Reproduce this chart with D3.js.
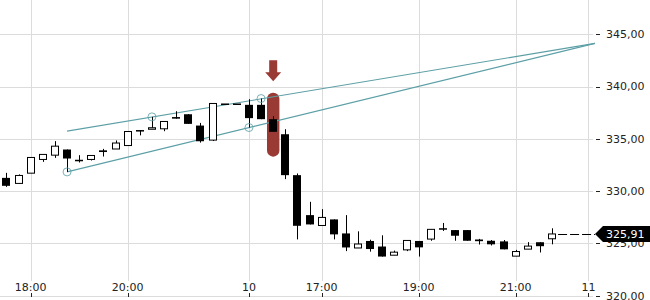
<!DOCTYPE html>
<html>
<head>
<meta charset="utf-8">
<script src="https://cdn.jsdelivr.net/npm/d3@7"></script>
<style>
    html, body { margin: 0; padding: 0; background: #fff; }
    svg { display: block; font-family: "DejaVu Sans", sans-serif; }
</style>
</head>
<body>
<div id="chart"></div>
<script>
// ===================================
// DATA (15 minute candles, one per index)
// ===================================
const opens = [331.27, 330.74, 331.72, 333.03, 333.44, 333.98, 333.00, 333.03, 333.90, 334.03,
    334.36, 335.84, 335.98, 335.96, 337.08, 337.35, 336.27, 334.88, 338.38, 338.38,
    338.25, 338.25, 336.88, 335.44, 331.53, 327.71, 326.72, 327.30, 325.96, 324.57,
    325.24, 324.71, 323.88, 324.39, 325.24, 325.42, 326.46, 326.28, 326.28, 325.38,
    325.26, 325.20, 323.79, 324.46, 325.12, 325.45];
const highs = [331.75, 331.60, 333.22, 333.51, 334.78, 333.98, 333.44, 333.41, 334.04, 334.85,
    335.70, 335.84, 337.10, 336.66, 337.64, 337.35, 336.52, 338.38, 338.38, 338.38,
    338.79, 338.85, 337.16, 335.92, 331.69, 328.98, 328.28, 327.30, 327.71, 326.16,
    325.36, 325.78, 324.32, 325.29, 325.24, 326.35, 326.96, 326.28, 326.28, 325.44,
    325.33, 325.33, 324.39, 325.13, 325.12, 326.45];
const lows = [330.41, 330.74, 331.72, 332.80, 333.18, 331.84, 332.74, 332.93, 333.31, 334.03,
    334.33, 335.33, 335.95, 335.73, 336.93, 336.43, 334.64, 334.79, 338.38, 338.38,
    336.08, 336.88, 335.67, 331.15, 325.39, 326.82, 326.72, 325.39, 324.27, 324.57,
    324.22, 323.75, 323.88, 324.27, 323.75, 325.26, 326.20, 325.26, 325.26, 324.90,
    324.81, 324.44, 323.79, 324.46, 324.14, 324.92];
const closes = [330.51, 331.50, 333.22, 333.51, 334.30, 333.12, 332.86, 333.41, 333.74, 334.60,
    335.70, 335.70, 336.06, 336.66, 336.93, 336.43, 334.77, 338.38, 338.38, 338.38,
    336.98, 336.88, 335.67, 331.53, 326.69, 326.82, 327.49, 325.87, 324.62, 324.95,
    324.47, 323.75, 324.17, 325.29, 324.63, 326.35, 326.32, 325.74, 325.26, 325.22,
    324.92, 324.44, 324.23, 324.75, 324.74, 325.91];

// x axis labels sit on candle indices
const tickIndex = [2, 10, 20, 26, 34, 42, 48];
const tickLabels = ["18:00", "20:00", "10", "17:00", "19:00", "21:00", "11"];
const yTicks = [320, 325, 330, 335, 340, 345];
const lastPrice = 325.91;

// drawing tools: trend channel, pivot markers, highlighted candle
const trendLines = [
    [[5, 335.74], [48.54, 344.12]],
    [[5, 331.84], [48.54, 344.12]]
];
const pivots = [[5, 331.84], [12, 337.10], [20, 336.08], [21, 338.85]];
const highlightIndex = 22;
const highlightRange = [333.3, 339.4];
const arrowRange = [340.5, 342.5];

// ===================================
// CHART CONFIGURATION
// ===================================
const W = 650, H = 300;
const plotRight = 595;

const svg = d3.select("#chart").append("svg")
    .attr("width", W)
    .attr("height", H);

const x = d3.scaleLinear().domain([0, 48]).range([6.45, 588.45]);
const y = d3.scaleLinear().domain([320, 345]).range([295.8, 34.2]);

const fmt = d3.formatLocale({ decimal: ",", thousands: ".", grouping: [3], currency: ["", ""] }).format(".2f");
const crisp = v => Math.round(v) + 0.5;

const candles = opens.map((o, i) => ({ i, o, h: highs[i], l: lows[i], c: closes[i] }));

// ===================================
// GRID LINES
// ===================================
svg.append("g")
    .selectAll("line")
    .data(yTicks)
    .join("line")
    .attr("x1", 0)
    .attr("x2", plotRight - 2)
    .attr("y1", d => crisp(y(d)))
    .attr("y2", d => crisp(y(d)))
    .attr("stroke", "#dcdcdc");

svg.append("g")
    .selectAll("line")
    .data(tickIndex)
    .join("line")
    .attr("x1", d => crisp(x(d)))
    .attr("x2", d => crisp(x(d)))
    .attr("y1", 0)
    .attr("y2", 281)
    .attr("stroke", "#dcdcdc");

// ===================================
// AXES
// ===================================
const yAxis = svg.append("g");
yAxis.selectAll("line")
    .data(yTicks)
    .join("line")
    .attr("x1", 596)
    .attr("x2", 600)
    .attr("y1", d => crisp(y(d)))
    .attr("y2", d => crisp(y(d)))
    .attr("stroke", "#222");
yAxis.selectAll("text")
    .data(yTicks)
    .join("text")
    .attr("x", 606)
    .attr("y", d => y(d))
    .attr("dy", "0.36em")
    .attr("font-size", "11px")
    .attr("fill", "#222")
    .text(d => fmt(d));

const xAxis = svg.append("g");
xAxis.selectAll("line")
    .data(tickIndex)
    .join("line")
    .attr("x1", d => crisp(x(d)))
    .attr("x2", d => crisp(x(d)))
    .attr("y1", 293)
    .attr("y2", 297)
    .attr("stroke", "#222");
xAxis.selectAll("text")
    .data(tickIndex)
    .join("text")
    .attr("x", (d) => x(d))
    .attr("y", 291)
    .attr("text-anchor", "middle")
    .attr("font-size", "11px")
    .attr("fill", "#222")
    .text((d, k) => tickLabels[k]);

// ===================================
// HIGHLIGHT + ARROW
// ===================================
const red = "#9a3a34";
svg.append("rect")
    .attr("x", x(highlightIndex) - 6.2)
    .attr("width", 12.4)
    .attr("y", y(highlightRange[1]))
    .attr("height", y(highlightRange[0]) - y(highlightRange[1]))
    .attr("rx", 6)
    .attr("fill", red);

const ax = x(highlightIndex), arrowTip = y(arrowRange[0]), arrowTop = y(arrowRange[1]);
const neck = arrowTip - 9;
svg.append("path")
    .attr("d", `M${ax - 4},${arrowTop} L${ax + 4},${arrowTop} L${ax + 4},${neck} L${ax + 8},${neck} L${ax},${arrowTip} L${ax - 8},${neck} L${ax - 4},${neck} Z`)
    .attr("fill", red);

// ===================================
// TREND CHANNEL
// ===================================
const teal = "#5c9fa6";
svg.append("g")
    .selectAll("line")
    .data(trendLines)
    .join("line")
    .attr("x1", d => x(d[0][0]))
    .attr("y1", d => y(d[0][1]))
    .attr("x2", d => x(d[1][0]))
    .attr("y2", d => y(d[1][1]))
    .attr("stroke", teal)
    .attr("stroke-width", 1.1);

// ===================================
// CANDLES
// ===================================
const bw = 8;
const cg = svg.append("g");
cg.selectAll(".wick")
    .data(candles)
    .join("line")
    .attr("class", "wick")
    .attr("x1", d => crisp(x(d.i)))
    .attr("x2", d => crisp(x(d.i)))
    .attr("y1", d => y(d.h))
    .attr("y2", d => y(d.l))
    .attr("stroke", "#000");

cg.selectAll(".body")
    .data(candles)
    .join("rect")
    .attr("class", "body")
    .attr("x", d => d.c > d.o ? Math.round(x(d.i)) - bw / 2 + 0.5 : Math.round(x(d.i)) - bw / 2)
    .attr("width", d => d.c > d.o ? bw - 1 : bw)
    .attr("y", d => y(Math.max(d.o, d.c)))
    .attr("height", d => Math.max(1.5, Math.abs(y(d.o) - y(d.c))))
    .attr("fill", d => d.c > d.o ? "#fff" : "#000")
    .attr("stroke", d => d.c > d.o ? "#000" : "none");

// pivot markers
svg.append("g")
    .selectAll("circle")
    .data(pivots)
    .join("circle")
    .attr("cx", d => x(d[0]))
    .attr("cy", d => y(d[1]))
    .attr("r", 4)
    .attr("fill", "none")
    .attr("stroke", teal)
    .attr("stroke-opacity", 0.8);

// ===================================
// LAST PRICE MARKER
// ===================================
const ly = y(lastPrice);
svg.append("line")
    .attr("x1", x(candles.length - 1) + 6)
    .attr("x2", plotRight)
    .attr("y1", crisp(ly))
    .attr("y2", crisp(ly))
    .attr("stroke", "#000")
    .attr("stroke-dasharray", "9,3");

svg.append("path")
    .attr("d", `M${plotRight},${ly} L${plotRight + 8},${ly - 8} L${W},${ly - 8} L${W},${ly + 8} L${plotRight + 8},${ly + 8} Z`)
    .attr("fill", "#000");

svg.append("text")
    .attr("x", 606)
    .attr("y", ly)
    .attr("dy", "0.36em")
    .attr("font-size", "11px")
    .attr("fill", "#fff")
    .text(fmt(lastPrice));
</script>
</body>
</html>
